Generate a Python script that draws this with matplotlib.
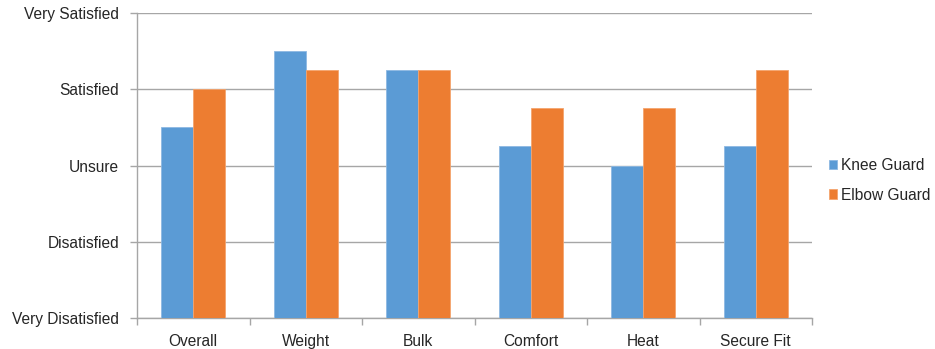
import matplotlib
matplotlib.use("Agg")
import matplotlib.pyplot as plt
import numpy as np

plt.rcParams['font.family'] = ['Liberation Sans', 'DejaVu Sans']

categories = ["Overall", "Weight", "Bulk", "Comfort", "Heat", "Secure Fit"]
knee_guard = [3.5, 4.5, 4.25, 3.25, 3.0, 3.25]
elbow_guard = [4.0, 4.25, 4.25, 3.75, 3.75, 4.25]
level_values = [1, 2, 3, 4, 5]
level_labels = ["Very Disatisfied", "Disatisfied", "Unsure", "Satisfied", "Very Satisfied"]
series_names = ["Knee Guard", "Elbow Guard"]

blue = "#5B9BD5"
orange = "#ED7D31"
grid_col = "#A6A6A6"
text_col = "#262626"
fs = 11.2

fig = plt.figure(figsize=(9.35, 3.49), dpi=100)
ax = fig.add_axes([137 / 935, 1 - 318.3 / 349, (812 - 137) / 935, (318.3 - 12.7) / 349])

x = np.arange(len(categories))
bw = 0.2857
ax.bar(x - bw / 2, np.array(knee_guard) - 1, bw, bottom=1, color=blue,
       edgecolor="#8DB8E2", linewidth=0.6, label=series_names[0], zorder=3)
ax.bar(x + bw / 2, np.array(elbow_guard) - 1, bw, bottom=1, color=orange,
       edgecolor="#F4A46E", linewidth=0.6, label=series_names[1], zorder=3)

ax.set_xlim(-0.5, len(categories) - 0.5)
ax.set_ylim(1, 5)
ax.set_yticks(level_values)
ax.set_yticklabels(level_labels, fontsize=fs, color=text_col)
ax.yaxis.grid(True, color=grid_col, linewidth=1.0, zorder=0)
ax.set_axisbelow(True)

ax.set_xticks(x)
ax.set_xticklabels(categories, fontsize=fs, color=text_col)
ax.tick_params(axis='x', length=0, pad=11)
ax.set_xticks(np.arange(-0.5, len(categories)), minor=True)
ax.tick_params(axis='x', which='minor', length=5, color=grid_col, width=1.0)
ax.tick_params(axis='y', length=5, color=grid_col, width=1.0, pad=8)

for side in ["top", "right"]:
    ax.spines[side].set_visible(False)
for side in ["left", "bottom"]:
    ax.spines[side].set_color(grid_col)
    ax.spines[side].set_linewidth(1.0)

leg = ax.legend(loc="center left", bbox_to_anchor=(1.004, 0.452), frameon=False,
                fontsize=fs, handlelength=0.55, handleheight=0.55, handletextpad=0.25,
                labelspacing=0.95)
for t in leg.get_texts():
    t.set_color(text_col)

fig.savefig("out.png", dpi=100)
